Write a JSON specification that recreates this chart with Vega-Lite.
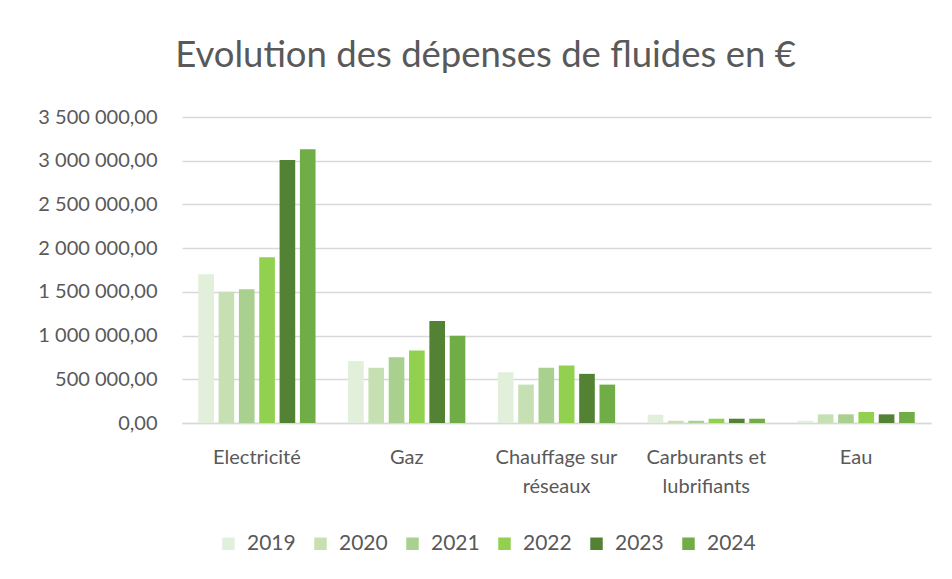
{
  "$schema": "https://vega.github.io/schema/vega-lite/v6.json",
  "width": 749,
  "height": 306,
  "autosize": {"type": "none"},
  "padding": {"left": 182, "top": 117, "right": 21, "bottom": 156},
  "background": "white",
  "config": {
    "locale": {"number": {"decimal": ",", "thousands": " ", "grouping": [3], "currency": ["", " €"]}},
    "view": {"stroke": null},
    "font": "Lato"
  },
  "title": {
    "text": "Evolution des dépenses de fluides en €",
    "font": "Lato",
    "fontSize": 36.5,
    "fontWeight": "normal",
    "color": "#595959",
    "anchor": "middle",
    "dx": -71,
    "offset": 33
  },
  "data": {
    "values": [
      {"categorie": "Electricité", "annee": "2019", "valeur": 1702000},
      {"categorie": "Electricité", "annee": "2020", "valeur": 1502000},
      {"categorie": "Electricité", "annee": "2021", "valeur": 1530000},
      {"categorie": "Electricité", "annee": "2022", "valeur": 1897000},
      {"categorie": "Electricité", "annee": "2023", "valeur": 3009000},
      {"categorie": "Electricité", "annee": "2024", "valeur": 3131000},
      {"categorie": "Gaz", "annee": "2019", "valeur": 708000},
      {"categorie": "Gaz", "annee": "2020", "valeur": 631000},
      {"categorie": "Gaz", "annee": "2021", "valeur": 753000},
      {"categorie": "Gaz", "annee": "2022", "valeur": 830000},
      {"categorie": "Gaz", "annee": "2023", "valeur": 1166000},
      {"categorie": "Gaz", "annee": "2024", "valeur": 998000},
      {"categorie": "Chauffage sur réseaux", "annee": "2019", "valeur": 580000},
      {"categorie": "Chauffage sur réseaux", "annee": "2020", "valeur": 439000},
      {"categorie": "Chauffage sur réseaux", "annee": "2021", "valeur": 631000},
      {"categorie": "Chauffage sur réseaux", "annee": "2022", "valeur": 657000},
      {"categorie": "Chauffage sur réseaux", "annee": "2023", "valeur": 562000},
      {"categorie": "Chauffage sur réseaux", "annee": "2024", "valeur": 439000},
      {"categorie": "Carburants et lubrifiants", "annee": "2019", "valeur": 95000},
      {"categorie": "Carburants et lubrifiants", "annee": "2020", "valeur": 26000},
      {"categorie": "Carburants et lubrifiants", "annee": "2021", "valeur": 26000},
      {"categorie": "Carburants et lubrifiants", "annee": "2022", "valeur": 49000},
      {"categorie": "Carburants et lubrifiants", "annee": "2023", "valeur": 49000},
      {"categorie": "Carburants et lubrifiants", "annee": "2024", "valeur": 49000},
      {"categorie": "Eau", "annee": "2019", "valeur": 25000},
      {"categorie": "Eau", "annee": "2020", "valeur": 99000},
      {"categorie": "Eau", "annee": "2021", "valeur": 99000},
      {"categorie": "Eau", "annee": "2022", "valeur": 126000},
      {"categorie": "Eau", "annee": "2023", "valeur": 99000},
      {"categorie": "Eau", "annee": "2024", "valeur": 126000}
    ]
  },
  "mark": {"type": "bar"},
  "encoding": {
    "x": {
      "field": "categorie",
      "type": "nominal",
      "sort": ["Electricité", "Gaz", "Chauffage sur réseaux", "Carburants et lubrifiants", "Eau"],
      "scale": {"paddingInner": 0, "paddingOuter": 0},
      "axis": {
        "title": null,
        "labelAngle": 0,
        "labelFontSize": 20,
        "labelColor": "#595959",
        "labelPadding": 24,
        "labelLineHeight": 29,
        "labelExpr": "datum.label == 'Chauffage sur réseaux' ? ['Chauffage sur', 'réseaux'] : datum.label == 'Carburants et lubrifiants' ? ['Carburants et', 'lubrifiants'] : datum.label",
        "ticks": false,
        "domain": true,
        "domainColor": "#D9D9D9",
        "domainWidth": 1.5
      }
    },
    "xOffset": {
      "field": "annee",
      "type": "nominal",
      "scale": {"paddingInner": 0.23, "paddingOuter": 0.8}
    },
    "y": {
      "field": "valeur",
      "type": "quantitative",
      "scale": {"domain": [0, 3500000], "nice": false},
      "axis": {
        "title": null,
        "values": [0, 500000, 1000000, 1500000, 2000000, 2500000, 3000000, 3500000],
        "format": ",.2f",
        "labelFontSize": 20,
        "labelColor": "#595959",
        "labelPadding": 25,
        "ticks": false,
        "domain": false,
        "grid": true,
        "gridColor": "#D9D9D9",
        "gridWidth": 1.5
      }
    },
    "color": {
      "field": "annee",
      "type": "nominal",
      "scale": {
        "domain": ["2019", "2020", "2021", "2022", "2023", "2024"],
        "range": ["#E2EFDA", "#C6E0B4", "#A9D08E", "#92D050", "#548235", "#70AD47"]
      },
      "legend": {
        "title": null,
        "orient": "none",
        "direction": "horizontal",
        "legendX": 36,
        "legendY": 416,
        "symbolType": "square",
        "symbolSize": 156,
        "symbolStrokeWidth": 0,
        "labelFontSize": 21,
        "labelColor": "#595959",
        "labelOffset": 8,
        "columnPadding": 14
      }
    }
  }
}
